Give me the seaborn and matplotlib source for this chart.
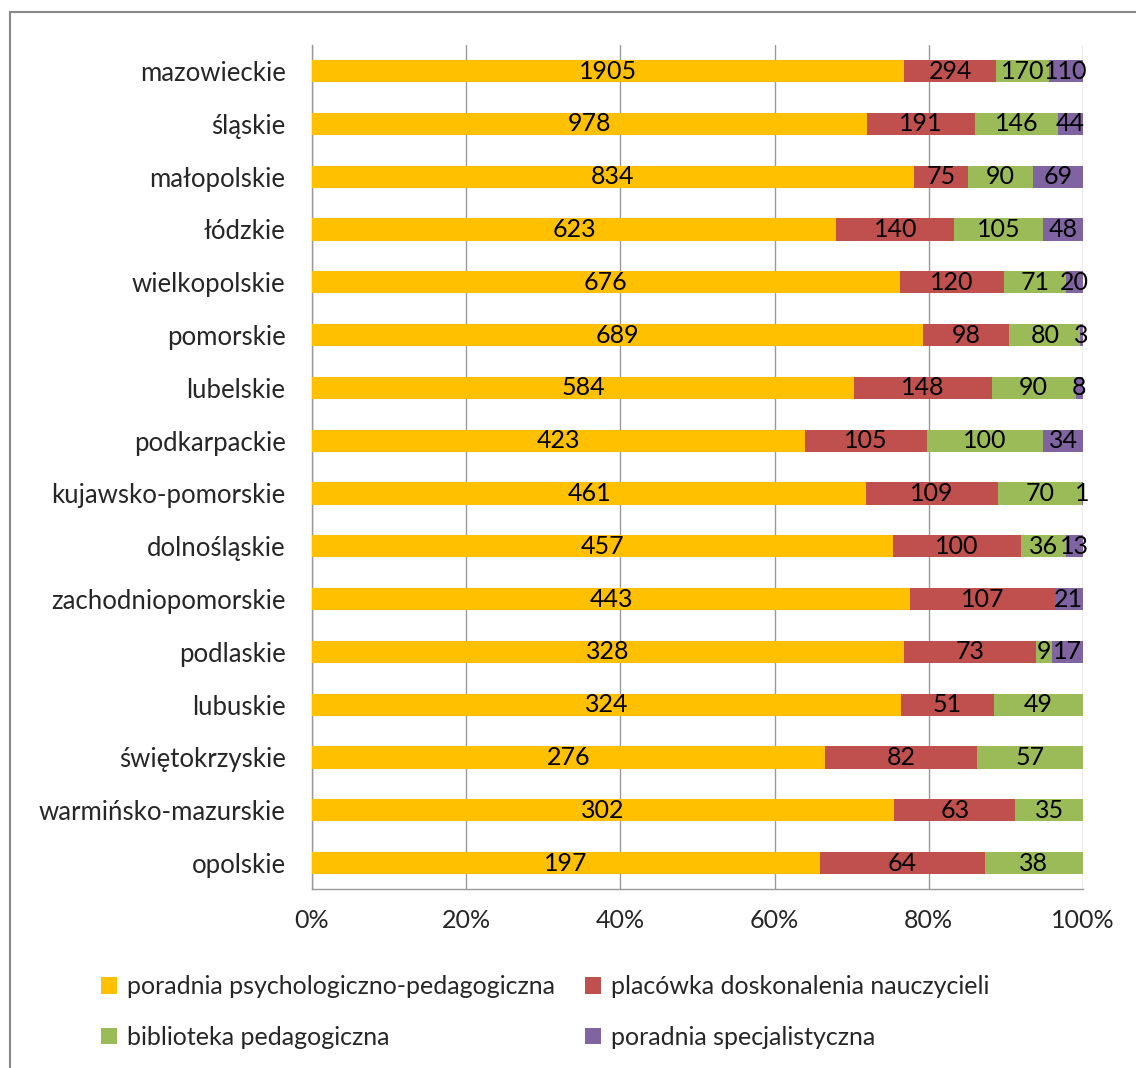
import numpy as np
import pandas as pd
import matplotlib
matplotlib.use("Agg")
import matplotlib.pyplot as plt
import seaborn as sns
from matplotlib.patches import Rectangle, Patch

sns.set_style("white")
plt.rcParams['font.family'] = ['Lato', 'DejaVu Sans']

regions = ["mazowieckie", "śląskie", "małopolskie", "łódzkie", "wielkopolskie",
           "pomorskie", "lubelskie", "podkarpackie", "kujawsko-pomorskie",
           "dolnośląskie", "zachodniopomorskie", "podlaskie", "lubuskie",
           "świętokrzyskie", "warmińsko-mazurskie", "opolskie"]
poradnia_pp = [1905, 978, 834, 623, 676, 689, 584, 423, 461, 457, 443, 328, 324, 276, 302, 197]
placowka = [294, 191, 75, 140, 120, 98, 148, 105, 109, 100, 107, 73, 51, 82, 63, 64]
biblioteka = [170, 146, 90, 105, 71, 80, 90, 100, 70, 36, 0, 9, 49, 57, 35, 38]
poradnia_sp = [110, 44, 69, 48, 20, 3, 8, 34, 1, 13, 21, 17, 0, 0, 0, 0]

series_names = ["poradnia psychologiczno-pedagogiczna", "placówka doskonalenia nauczycieli",
                "biblioteka pedagogiczna", "poradnia specjalistyczna"]
colors = ["#FFC000", "#C0504D", "#9BBB59", "#8064A2"]

df = pd.DataFrame({"region": regions, series_names[0]: poradnia_pp,
                   series_names[1]: placowka, series_names[2]: biblioteka,
                   series_names[3]: poradnia_sp})
vals = df[series_names]
pct = vals.div(vals.sum(axis=1), axis=0) * 100
cum = pct.cumsum(axis=1)

fig = plt.figure(figsize=(11.36, 10.68), dpi=100)
ax = fig.add_axes([0.2746, 0.1672, 0.6787, 0.791])

# draw stacked bars from the right-most cumulative back to the left
for i in range(len(series_names) - 1, -1, -1):
    sns.barplot(x=cum[series_names[i]], y=df["region"], orient="h",
                color=colors[i], width=0.42, ax=ax, zorder=3,
                edgecolor="none", saturation=1)

# value labels
for r in range(len(regions)):
    left = 0
    for i, name in enumerate(series_names):
        v = vals.iloc[r][name]
        w = pct.iloc[r][name]
        if v > 0:
            ax.text(left + w / 2, r, str(v), ha="center", va="center",
                    fontsize=18, color="black", zorder=5)
        left += w

ax.set_xlim(0, 100)
ax.set_ylim(len(regions) - 0.5, -0.5)
ax.set_xticks(np.arange(0, 101, 20))
ax.set_xticklabels([f"{t}%" for t in range(0, 101, 20)], fontsize=18)
ax.tick_params(axis="y", labelsize=18.5, length=0, pad=19)
ax.set_yticks(np.arange(-0.5, len(regions), 1), minor=True)
ax.tick_params(axis="y", which="minor", length=6, color="#999999", direction="out")
ax.tick_params(axis="x", length=6, color="#999999", direction="out", pad=8)
ax.set_xlabel("")
ax.set_ylabel("")
ax.grid(axis="x", color="#999999", linewidth=1, zorder=0)
ax.set_axisbelow(True)
for s in ["top", "right"]:
    ax.spines[s].set_visible(False)
for s in ["left", "bottom"]:
    ax.spines[s].set_color("#999999")
    ax.spines[s].set_linewidth(1)

# legend: column-major order so rows read pp, placówka / biblioteka, specjalistyczna
order = [0, 2, 1, 3]
handles = [Patch(facecolor=colors[k], edgecolor="none") for k in order]
labels = [series_names[k] for k in order]
fig.legend(handles, labels, loc="upper left", bbox_to_anchor=(0.069, 0.108),
           ncol=2, frameon=False, fontsize=18, handlelength=0.65, handleheight=0.65,
           handletextpad=0.4, columnspacing=1.2, labelspacing=1.1)

fig.patches.append(Rectangle((0.009, -0.01), 1.2, 0.999, transform=fig.transFigure,
                             fill=False, edgecolor="#888888", linewidth=1.5))

fig.savefig("out.png", dpi=100)
